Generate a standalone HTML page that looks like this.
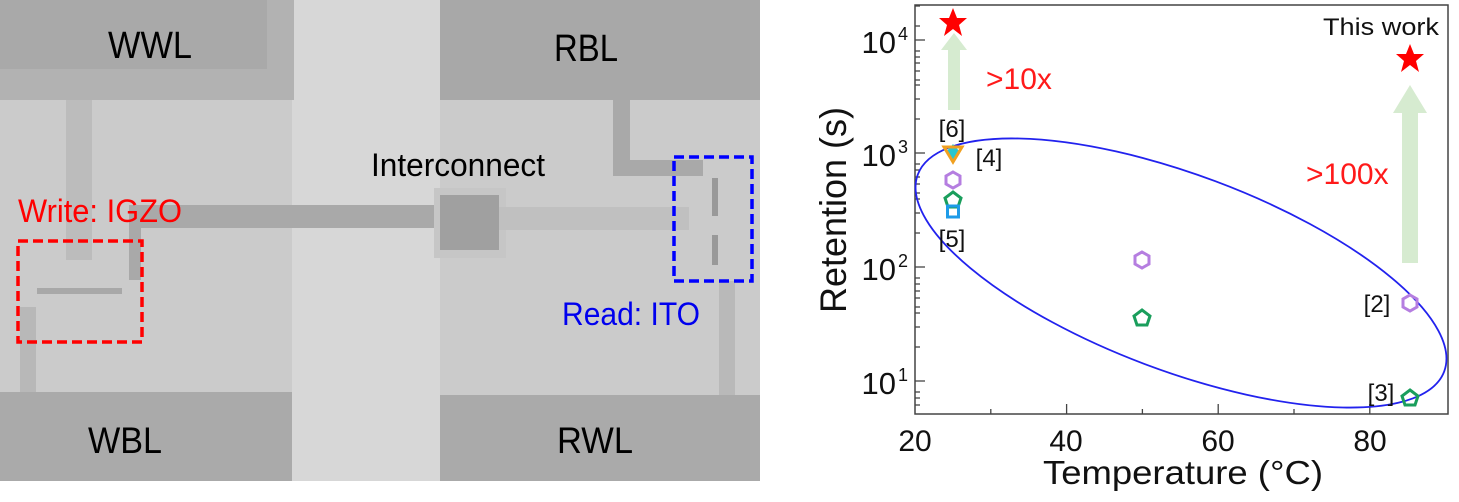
<!DOCTYPE html>
<html><head><meta charset="utf-8"><style>
html,body{margin:0;padding:0;background:#fff;width:1459px;height:502px;overflow:hidden}
svg{display:block}
</style></head><body>
<svg width="1459" height="502" viewBox="0 0 1459 502" xmlns="http://www.w3.org/2000/svg" font-family="Liberation Sans, Arial, sans-serif">
<rect x="0" y="0" width="760" height="481" fill="#cbcbcb"/>
<rect x="292" y="0" width="148" height="481" fill="#d7d7d7"/>
<rect x="0" y="0" width="294" height="100" fill="#b2b2b2"/>
<rect x="0" y="0" width="267" height="69" fill="#a9a9a9"/>
<rect x="440" y="0" width="320" height="100" fill="#a8a8a8"/>
<rect x="0" y="392" width="292" height="89" fill="#aaaaaa"/>
<rect x="440" y="395" width="320" height="86" fill="#aaaaaa"/>
<rect x="66" y="100" width="26" height="160" fill="#bcbcbc"/>
<rect x="20" y="307" width="16" height="85" fill="#b8b8b8"/>
<rect x="613" y="100" width="17" height="75" fill="#a9a9a9"/>
<rect x="613" y="160" width="90" height="16" fill="#a9a9a9"/>
<rect x="129" y="205" width="310" height="23" fill="#a9a9a9"/>
<rect x="129" y="205" width="12" height="75" fill="#a9a9a9"/>
<rect x="434" y="188" width="72" height="70" fill="#c6c6c6"/>
<rect x="440" y="195" width="59" height="55" fill="#a0a0a0"/>
<rect x="499" y="207" width="190" height="23" fill="#c0c0c0"/>
<rect x="719" y="281" width="16" height="114" fill="#b9b9b9"/>
<rect x="37" y="288" width="85" height="6" fill="#a8a8a8"/>
<rect x="712" y="178" width="6" height="38" fill="#999"/>
<rect x="712" y="235" width="6" height="30" fill="#999"/>
<text x="108" y="58" font-size="38" textLength="84" lengthAdjust="spacingAndGlyphs" fill="#000">WWL</text>
<text x="554" y="61" font-size="38" textLength="64" lengthAdjust="spacingAndGlyphs" fill="#000">RBL</text>
<text x="88" y="453" font-size="37" textLength="74" lengthAdjust="spacingAndGlyphs" fill="#000">WBL</text>
<text x="557" y="453" font-size="37" textLength="76" lengthAdjust="spacingAndGlyphs" fill="#000">RWL</text>
<text x="371" y="176" font-size="32" textLength="174" lengthAdjust="spacingAndGlyphs" fill="#000">Interconnect</text>
<text x="18" y="222" font-size="32" textLength="164" lengthAdjust="spacingAndGlyphs" fill="#ff0000">Write: IGZO</text>
<text x="562" y="325" font-size="32" textLength="138" lengthAdjust="spacingAndGlyphs" fill="#0000ee">Read: ITO</text>
<rect x="18" y="241" width="124" height="101" fill="none" stroke="#ff0000" stroke-width="3.5" stroke-dasharray="10,5"/>
<rect x="674" y="157" width="78" height="124" fill="none" stroke="#0000ff" stroke-width="3.5" stroke-dasharray="10,5"/>

<rect x="915" y="5" width="533" height="409" fill="none" stroke="#444" stroke-width="1.5"/>
<g stroke="#444" stroke-width="1.3">
<line x1="990.8" y1="414" x2="990.8" y2="409"/><line x1="1066.6" y1="414" x2="1066.6" y2="404"/>
<line x1="1142.4" y1="414" x2="1142.4" y2="409"/><line x1="1218.2" y1="414" x2="1218.2" y2="404"/>
<line x1="1294" y1="414" x2="1294" y2="409"/><line x1="1369.8" y1="414" x2="1369.8" y2="404"/>
<line x1="915" y1="40" x2="925" y2="40"/><line x1="915" y1="153" x2="925" y2="153"/>
<line x1="915" y1="267" x2="925" y2="267"/><line x1="915" y1="381" x2="925" y2="381"/>
<line x1="915" y1="6" x2="920" y2="6"/><line x1="915" y1="26" x2="920" y2="26"/>
<line x1="915" y1="51" x2="920" y2="51"/><line x1="915" y1="57" x2="920" y2="57"/><line x1="915" y1="63" x2="920" y2="63"/><line x1="915" y1="71" x2="920" y2="71"/><line x1="915" y1="80" x2="920" y2="80"/><line x1="915" y1="85" x2="920" y2="85"/><line x1="915" y1="99" x2="920" y2="99"/><line x1="915" y1="119" x2="920" y2="119"/>
<line x1="915" y1="164" x2="920" y2="164"/><line x1="915" y1="170" x2="920" y2="170"/><line x1="915" y1="177" x2="920" y2="177"/><line x1="915" y1="184" x2="920" y2="184"/><line x1="915" y1="193" x2="920" y2="193"/><line x1="915" y1="199" x2="920" y2="199"/><line x1="915" y1="213" x2="920" y2="213"/><line x1="915" y1="233" x2="920" y2="233"/>
<line x1="915" y1="278" x2="920" y2="278"/><line x1="915" y1="284" x2="920" y2="284"/><line x1="915" y1="291" x2="920" y2="291"/><line x1="915" y1="298" x2="920" y2="298"/><line x1="915" y1="307" x2="920" y2="307"/><line x1="915" y1="313" x2="920" y2="313"/><line x1="915" y1="327" x2="920" y2="327"/><line x1="915" y1="347" x2="920" y2="347"/>
<line x1="915" y1="392" x2="920" y2="392"/><line x1="915" y1="398" x2="920" y2="398"/><line x1="915" y1="405" x2="920" y2="405"/>
</g>
<g font-size="30" fill="#111" text-anchor="middle">
<text x="915" y="451">20</text><text x="1066" y="451">40</text><text x="1218" y="451">60</text><text x="1370" y="451">80</text>
</g>
<g font-size="31" fill="#111" text-anchor="end">
<text x="896" y="53">10</text><text x="896" y="166">10</text><text x="896" y="280">10</text><text x="896" y="394">10</text>
</g>
<g font-size="18" fill="#111">
<text x="898" y="40">4</text><text x="898" y="153">3</text><text x="898" y="267">2</text><text x="898" y="381">1</text>
</g>
<text x="1043" y="484" font-size="33" textLength="280" lengthAdjust="spacingAndGlyphs" fill="#111">Temperature (°C)</text>
<text transform="translate(846,313) rotate(-90)" font-size="37" textLength="206" lengthAdjust="spacingAndGlyphs" fill="#111">Retention (s)</text>

<path d="M954 33 L967 50 L960 50 L960 110 L948 110 L948 50 L941 50 Z" fill="#cfe8c8" opacity="0.85"/>
<path d="M1410 85 L1427 113 L1418 113 L1418 263 L1402 263 L1402 113 L1393 113 Z" fill="#cfe8c8" opacity="0.85"/>
<text x="986" y="89" font-size="30" fill="#ff1a1a">&gt;10x</text>
<text x="1306" y="184" font-size="30" fill="#ff1a1a">&gt;100x</text>
<text x="1323" y="35" font-size="24" fill="#111" textLength="116" lengthAdjust="spacingAndGlyphs">This work</text>

<ellipse cx="1181" cy="273" rx="281" ry="98" transform="rotate(20.5 1181 273)" fill="none" stroke="#2222ee" stroke-width="1.8"/>

<path d="M953 8 L957 18 L967 18 L959 25 L962 36 L953 29 L944 36 L947 25 L939 18 L949 18 Z" fill="#ff0000"/>
<path d="M1410 44 L1414 54 L1424 54 L1416 61 L1419 72 L1410 65 L1401 72 L1404 61 L1396 54 L1406 54 Z" fill="#ff0000"/>

<path d="M953 144 L960 152 L953 160 L946 152 Z" fill="#27c6cf"/>
<path d="M944 147 L962 147 L953 162 Z" fill="none" stroke="#f0a020" stroke-width="3"/>
<path d="M953 172 L960 176 L960 184 L953 188 L946 184 L946 176 Z" fill="none" stroke="#b57ee0" stroke-width="3"/>
<path d="M953 192 L961 198 L958 207 L948 207 L945 198 Z" fill="none" stroke="#1a9e5c" stroke-width="3"/>
<rect x="947.5" y="206" width="11" height="11" fill="none" stroke="#1e9be8" stroke-width="3"/>
<path d="M1142 252 L1149 256 L1149 264 L1142 268 L1135 264 L1135 256 Z" fill="none" stroke="#b57ee0" stroke-width="3"/>
<path d="M1142 310 L1150 316 L1147 325 L1137 325 L1134 316 Z" fill="none" stroke="#1a9e5c" stroke-width="3"/>
<path d="M1410 295 L1417 299 L1417 307 L1410 311 L1403 307 L1403 299 Z" fill="none" stroke="#b57ee0" stroke-width="3"/>
<path d="M1410 390 L1418 396 L1415 405 L1405 405 L1402 396 Z" fill="none" stroke="#1a9e5c" stroke-width="3"/>

<g font-size="24" fill="#111" text-anchor="middle">
<text x="952" y="137">[6]</text>
<text x="989" y="166">[4]</text>
<text x="952" y="247">[5]</text>
<text x="1377" y="312">[2]</text>
<text x="1381" y="401">[3]</text>
</g>
</svg>
</body></html>
